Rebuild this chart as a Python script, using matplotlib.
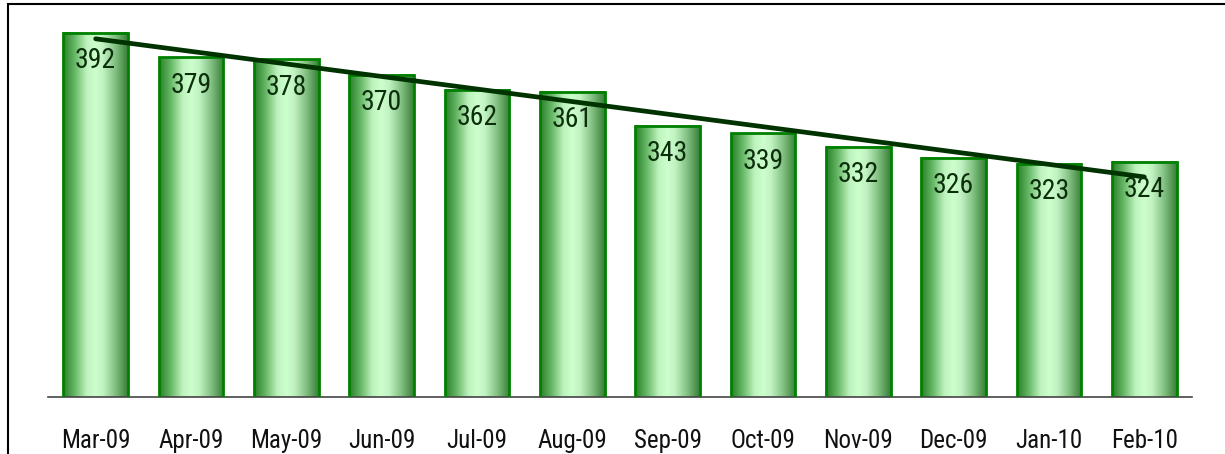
import numpy as np
import matplotlib
matplotlib.use("Agg")
import matplotlib.pyplot as plt
from matplotlib.colors import LinearSegmentedColormap
from matplotlib.patches import Rectangle
from matplotlib import font_manager

months = ["Mar-09", "Apr-09", "May-09", "Jun-09", "Jul-09", "Aug-09",
          "Sep-09", "Oct-09", "Nov-09", "Dec-09", "Jan-10", "Feb-10"]
values = [392, 379, 378, 370, 362, 361, 343, 339, 332, 326, 323, 324]

W, H = 1225, 454
fig = plt.figure(figsize=(W / 100, H / 100), dpi=100)
fig.patch.set_facecolor("white")

# pick a narrow font if one is installed
installed = {f.name for f in font_manager.fontManager.ttflist}
narrow_pref = ["Liberation Sans Narrow", "Roboto Condensed", "Open Sans Condensed",
               "DejaVu Sans Condensed", "Liberation Sans"]
narrow = [f for f in narrow_pref if f in installed] + ["DejaVu Sans"]
fam = narrow[0]
is_narrow = fam not in ("Liberation Sans", "DejaVu Sans")

# outer frame (left + top visible)
fig.add_artist(Rectangle((8 / W, -0.1), 1.2, (H - 4) / H + 0.1, transform=fig.transFigure,
                         fill=False, edgecolor="black", linewidth=1.5))

ax = fig.add_axes([48 / W, (H - 397) / H, (1192 - 48) / W, (397 - 17.6) / H])
x = np.arange(len(months))
bars = ax.bar(x, values, width=0.68, color="none", edgecolor="#008000", linewidth=2, zorder=3)

cmap = LinearSegmentedColormap.from_list("cyl", [
    (0.0, "#2a7f2a"), (0.18, "#66b866"), (0.36, "#bdf2bd"), (0.5, "#ccffcc"),
    (0.62, "#c2f2c2"), (0.8, "#84c284"), (1.0, "#367e36")])
grad = np.linspace(0, 1, 256).reshape(1, -1)
ax.set_xlim(-0.5, len(months) - 0.5)
ax.set_ylim(200, 400)
for b in bars:
    x0, w, h = b.get_x(), b.get_width(), b.get_height()
    ax.imshow(grad, cmap=cmap, aspect="auto", extent=(x0, x0 + w, 200, h),
              zorder=2, interpolation="bilinear")

# trend line
coef = np.polyfit(x, values, 1)
ax.plot(x, np.polyval(coef, x), color="#003300", linewidth=3.4, solid_capstyle="round", zorder=5)

vsize = 20 if is_narrow else 18
tsize = 18 if is_narrow else 16
for xi, v in zip(x, values):
    ax.annotate(str(v), (xi, v), xytext=(0, -20), textcoords="offset points",
                ha="center", va="center", fontsize=vsize, color="#0b2e0b",
                family=narrow, zorder=6)

ax.set_xticks(x)
ax.set_xticklabels(months, family=narrow, fontsize=tsize, color="#111111")
ax.tick_params(axis="x", length=0, pad=23)
ax.set_yticks([])
for s in ["top", "right", "left"]:
    ax.spines[s].set_visible(False)
ax.spines["bottom"].set_color("#444444")
ax.spines["bottom"].set_linewidth(1.2)
ax.set_facecolor("none")

fig.savefig("out.png", dpi=100)
